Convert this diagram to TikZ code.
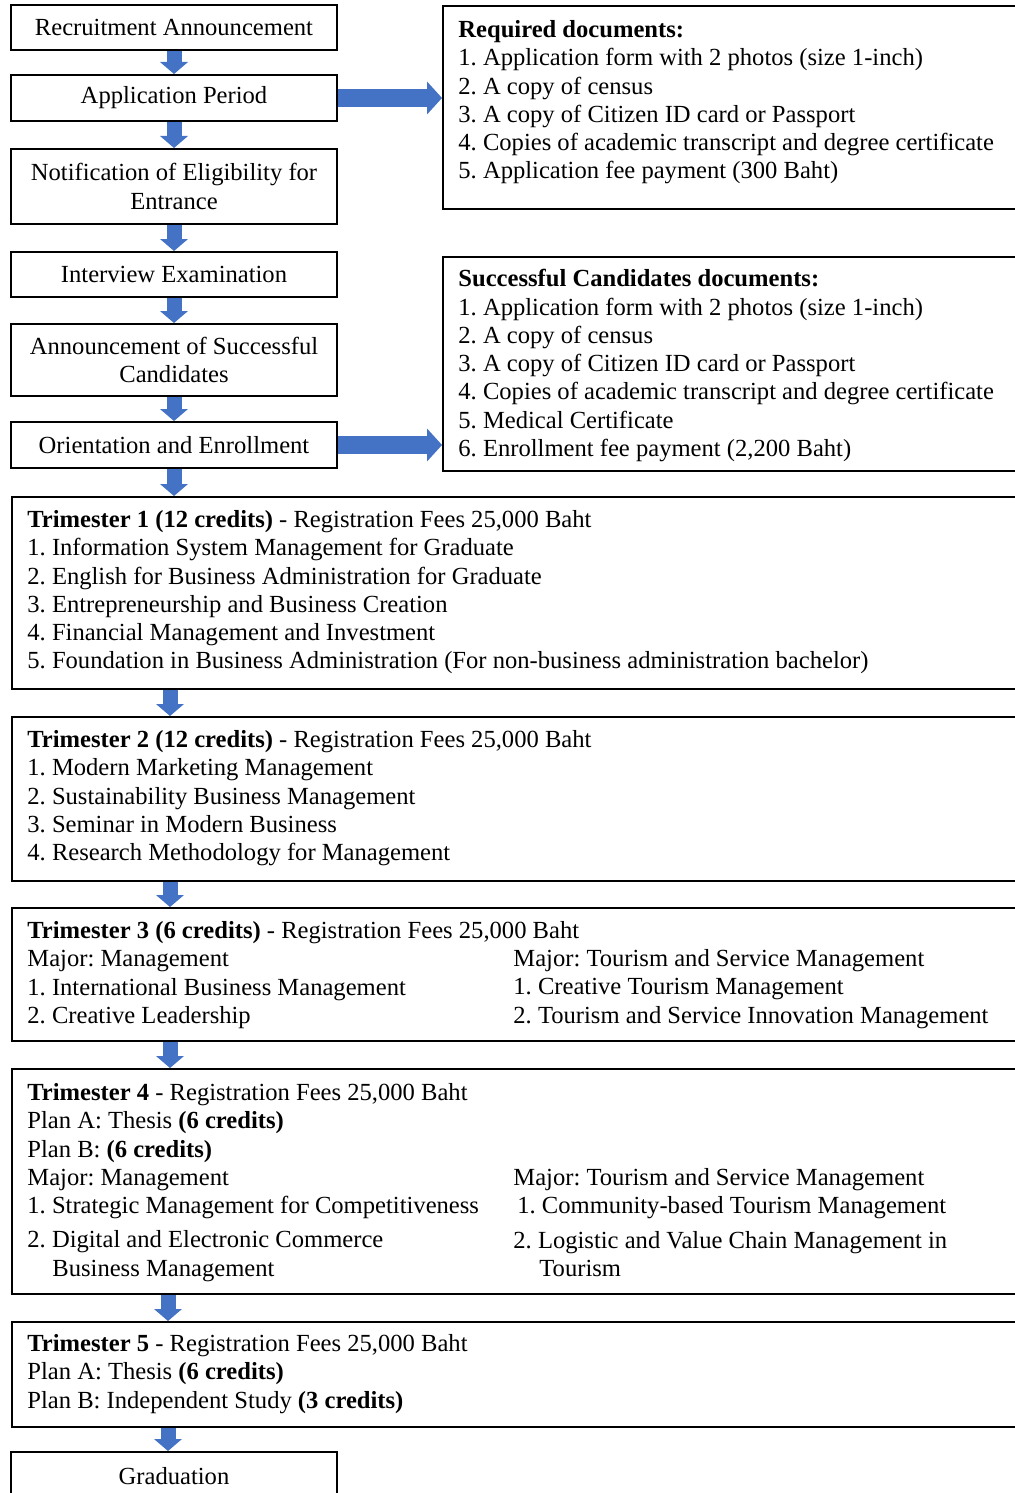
\documentclass[tikz,border=0pt]{standalone}
\usepackage{fontspec}
\setmainfont{Liberation Serif}
\usetikzlibrary{arrows.meta}
\definecolor{arrowblue}{HTML}{4472C4}
\frenchspacing

\begin{document}
\begin{tikzpicture}[x=0.5pt,y=-0.5pt,
        font=\fontsize{12.3pt}{14.15pt}\selectfont,
        flowbox/.style={draw=black, line width=1pt, minimum width=163pt, align=center, inner sep=0pt},
        listbox/.style={draw=black, line width=1pt, anchor=north west, inner sep=0pt},
        listtext/.style={anchor=north west, inner sep=0pt, align=left},
        dnarrow/.style={arrowblue, line width=7.5pt, -{Triangle[width=14pt,length=6pt,line width=0pt]}},
        rtarrow/.style={arrowblue, line width=9pt, -{Triangle[width=16.5pt,length=7.5pt,line width=0pt]}}]
        
        \useasboundingbox (0,0) rectangle (1014,1493);
        
        % admission steps
        \node[flowbox, minimum height=22.5pt] (rec) at (174,27.5) {Recruitment Announcement};
        \node[flowbox, minimum height=23pt] (app) at (174,98) {Application Period};
        \node[flowbox, minimum height=37.5pt] (noti) at (174,186.5) {Notification of Eligibility for\\Entrance};
        \node[flowbox, minimum height=22.5pt] (intv) at (174,274.5) {Interview Examination};
        \node[flowbox, minimum height=36pt] (annc) at (174,360) {Announcement of Successful\\Candidates};
        \node[flowbox, minimum height=23pt] (orie) at (174,445) {Orientation and Enrollment};
        
        % documents
        \node[listbox, minimum width=289pt, minimum height=101.5pt] (req) at (442,5) {};
        \node[listtext] (reqtxt) at (458,20) {\textbf{Required documents:}\\
            1. Application form with 2 photos (size 1-inch)\\
            2. A copy of census\\
            3. A copy of Citizen ID card or Passport\\
            4. Copies of academic transcript and degree certificate\\
            5. Application fee payment (300 Baht)};
        \node[listbox, minimum width=289pt, minimum height=107pt] (succ) at (442,256) {};
        \node[listtext] (succtxt) at (458,269) {\textbf{Successful Candidates documents:}\\
            1. Application form with 2 photos (size 1-inch)\\
            2. A copy of census\\
            3. A copy of Citizen ID card or Passport\\
            4. Copies of academic transcript and degree certificate\\
            5. Medical Certificate\\
            6. Enrollment fee payment (2,200 Baht)};
        
        % trimesters
        \node[listbox, minimum width=504.5pt, minimum height=96pt] (t1) at (11,496) {};
        \node[listtext] (t1txt) at (27,510) {\textbf{Trimester 1 (12 credits)} - Registration Fees 25,000 Baht\\
            1. Information System Management for Graduate\\
            2. English for Business Administration for Graduate\\
            3. Entrepreneurship and Business Creation\\
            4. Financial Management and Investment\\
            5. Foundation in Business Administration (For non-business administration bachelor)};
        
        \node[listbox, minimum width=504.5pt, minimum height=82pt] (t2) at (11,716) {};
        \node[listtext] (t2txt) at (27,730) {\textbf{Trimester 2 (12 credits)} - Registration Fees 25,000 Baht\\
            1. Modern Marketing Management\\
            2. Sustainability Business Management\\
            3. Seminar in Modern Business\\
            4. Research Methodology for Management};
        
        \node[listbox, minimum width=504.5pt, minimum height=66.5pt] (t3) at (11,907) {};
        \node[listtext] (t3txt) at (27,921) {\textbf{Trimester 3 (6 credits)} - Registration Fees 25,000 Baht\\
            Major: Management\\
            1. International Business Management\\
            2. Creative Leadership};
        \node[listtext] (t3tour) at (513,949) {Major: Tourism and Service Management\\
            1. Creative Tourism Management\\
            2. Tourism and Service Innovation Management};
        
        \node[listbox, minimum width=504.5pt, minimum height=112.5pt] (t4) at (11,1068) {};
        \node[listtext] (t4txt) at (27,1083) {\textbf{Trimester 4} - Registration Fees 25,000 Baht\\
            Plan A: Thesis \textbf{(6 credits)}\\
            Plan B: \textbf{(6 credits)}\\
            Major: Management\\
            1. Strategic Management for Competitiveness\\[3pt]
            2. Digital and Electronic Commerce\\
            \hspace*{12.5pt}Business Management};
        \node[listtext] (t4tour) at (513,1168) {Major: Tourism and Service Management\\
            \hspace*{2pt}1. Community-based Tourism Management\\[3pt]
            2. Logistic and Value Chain Management in\\
            \hspace*{13pt}Tourism};
        
        \node[listbox, minimum width=504.5pt, minimum height=52.5pt] (t5) at (11,1321) {};
        \node[listtext] (t5txt) at (27,1334) {\textbf{Trimester 5} - Registration Fees 25,000 Baht\\
            Plan A: Thesis \textbf{(6 credits)}\\
            Plan B: Independent Study \textbf{(3 credits)}};
        
        \node[flowbox, minimum height=24pt] (grad) at (174,1476) {Graduation};
        
        % arrows
        \draw[dnarrow] (rec) -- (app);
        \draw[dnarrow] (app) -- (noti);
        \draw[dnarrow] (noti) -- (intv);
        \draw[dnarrow] (intv) -- (annc);
        \draw[dnarrow] (annc) -- (orie);
        \draw[dnarrow] (orie.south) -- (orie.south |- t1.north);
        \draw[dnarrow] ([xshift=79.5pt]t1.south west) -- ([xshift=79.5pt]t2.north west);
        \draw[dnarrow] ([xshift=79.5pt]t2.south west) -- ([xshift=79.5pt]t3.north west);
        \draw[dnarrow] ([xshift=79.5pt]t3.south west) -- ([xshift=79.5pt]t4.north west);
        \draw[dnarrow] ([xshift=78.5pt]t4.south west) -- ([xshift=78.5pt]t5.north west);
        \draw[dnarrow] ([xshift=78.5pt]t5.south west) -- ([xshift=78.5pt]t5.south west |- grad.north);
        
        \draw[rtarrow] (app.east) -- (app.east -| req.west);
        \draw[rtarrow] (orie.east) -- (orie.east -| succ.west);
        
\end{tikzpicture}
\end{document}
